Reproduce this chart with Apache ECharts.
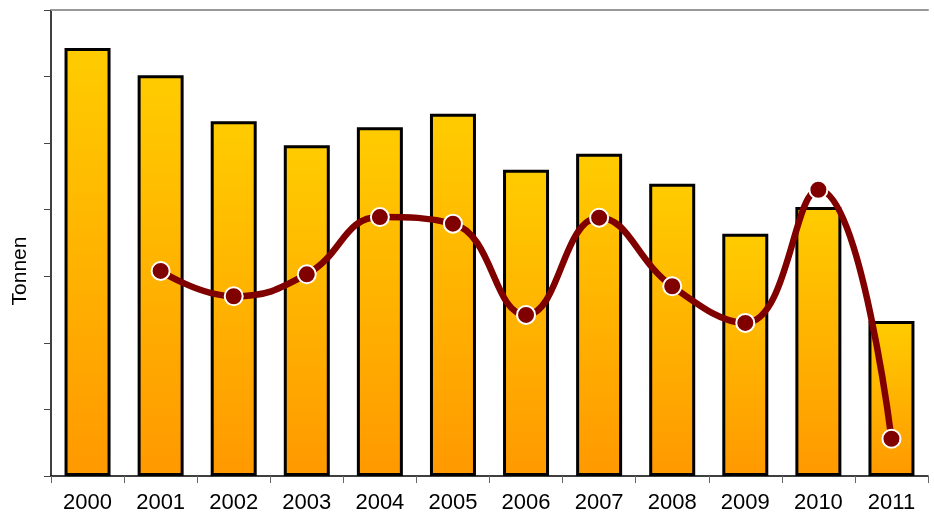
<!DOCTYPE html>
<html><head><meta charset="utf-8">
<script src="https://cdn.jsdelivr.net/npm/echarts@6/dist/echarts.min.js"></script>
<style>html,body{margin:0;padding:0;background:#fff}#c{width:934px;height:518px}</style>
</head><body><div id="c"></div>
<script>
const categories = ['2000','2001','2002','2003','2004','2005','2006','2007','2008','2009','2010','2011'];
const barValues = [6.43, 6.02, 5.33, 4.97, 5.24, 5.44, 4.60, 4.84, 4.39, 3.64, 4.04, 2.33];
const lineValues = [null, 3.08, 2.70, 3.03, 3.89, 3.79, 2.42, 3.88, 2.85, 2.30, 4.30, 0.56];
const yAxisName = 'Tonnen';

const chart = echarts.init(document.getElementById('c'));
chart.setOption({
  animation: false,
  grid: {left: 51, right: 6, top: 10, bottom: 42},
  xAxis: [{
    type: 'category', data: categories,
    axisLine: {lineStyle: {color: '#000', width: 1.5}},
    axisTick: {show: true, length: 7, lineStyle: {color: '#666'}},
    axisLabel: {color: '#000', fontFamily: 'Liberation Sans, Arial, sans-serif', fontSize: 22, margin: 16}
  }, {
    type: 'category', data: categories, position: 'top',
    axisLine: {show: true, lineStyle: {color: '#999', width: 2}},
    axisTick: {show: false}, axisLabel: {show: false}
  }],
  yAxis: {
    type: 'value', min: 0, max: 7, interval: 1,
    name: yAxisName, nameLocation: 'middle', nameGap: 20,
    nameTextStyle: {color: '#000', fontFamily: 'Liberation Sans, Arial, sans-serif', fontSize: 21, padding: [0, 0, 0, -56]},
    axisLine: {show: true, lineStyle: {color: '#000', width: 1.5}},
    axisTick: {show: true, length: 7, lineStyle: {color: '#444'}},
    axisLabel: {show: false},
    splitLine: {show: false}
  },
  series: [{
    type: 'bar', data: barValues, barWidth: 46,
    itemStyle: {
      color: new echarts.graphic.LinearGradient(0, 0, 0, 1, [{offset: 0, color: '#FFCC00'}, {offset: 1, color: '#FF9900'}]),
      borderColor: '#000', borderWidth: 3
    }
  }, {
    type: 'line', data: lineValues, smooth: 0.45,
    lineStyle: {color: '#800000', width: 6.5},
    symbol: 'circle', symbolSize: 18,
    itemStyle: {color: '#800000', borderColor: '#fff', borderWidth: 2}
  }]
});
</script></body></html>
